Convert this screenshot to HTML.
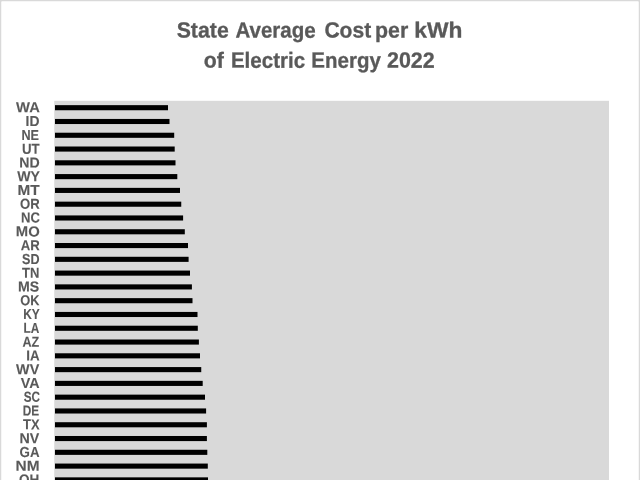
<!DOCTYPE html>
<html><head><meta charset="utf-8"><title>State Average Cost per kWh of Electric Energy 2022</title>
<style>
html,body{margin:0;padding:0;background:#fff;}
body{width:640px;height:480px;overflow:hidden;position:relative;font-family:"Liberation Sans",sans-serif;}
#chart{position:absolute;left:0;top:0;}
#chart text{font-family:"Liberation Sans",sans-serif;font-weight:bold;fill:#595959;text-rendering:geometricPrecision;}
.ti{font-size:22.0px;stroke:#595959;stroke-width:0.3px;}
.la{font-size:14.5px;text-anchor:end;stroke:#595959;stroke-width:0.1px;}
</style></head><body>
<svg id="chart" width="640" height="480" viewBox="0 0 640 480">
<rect x="0" y="0" width="640" height="520" rx="2" ry="2" fill="#fff" stroke="#d9d9d9" stroke-width="2.5"/>
<rect x="54.25" y="100.8" width="554.75" height="400" fill="#d9d9d9"/>

<g class="ti">
<text id="w0" transform="matrix(0.9677 0.002 0 1 176.66 37.50)">State</text>
<text id="w1" transform="matrix(0.9339 0.002 0 1 235.41 37.50)">Average</text>
<text id="w2" transform="matrix(0.9584 0.002 0 1 324.38 37.50)">Cost</text>
<text id="w3" transform="matrix(0.9720 0.002 0 1 374.97 37.50)">per</text>
<text id="w4" transform="matrix(1.0368 0.002 0 1 414.23 37.50)">kWh</text>
<text id="w5" transform="matrix(0.9674 0.002 0 1 203.78 67.60)">of</text>
<text id="w6" transform="matrix(0.9329 0.002 0 1 230.91 67.60)">Electric</text>
<text id="w7" transform="matrix(0.9319 0.002 0 1 311.30 67.60)">Energy</text>
<text id="w8" transform="matrix(0.9761 0.002 0 1 386.98 67.60)">2022</text>
</g>
<g fill="#000"><rect x="55" y="105.15" width="113.00" height="5.1"/>
<rect x="55" y="118.94" width="114.50" height="5.1"/>
<rect x="55" y="132.72" width="119.20" height="5.1"/>
<rect x="55" y="146.50" width="119.70" height="5.1"/>
<rect x="55" y="160.29" width="120.50" height="5.1"/>
<rect x="55" y="174.07" width="122.30" height="5.1"/>
<rect x="55" y="187.86" width="125.00" height="5.1"/>
<rect x="55" y="201.65" width="126.25" height="5.1"/>
<rect x="55" y="215.43" width="128.10" height="5.1"/>
<rect x="55" y="229.22" width="129.80" height="5.1"/>
<rect x="55" y="243.00" width="133.00" height="5.1"/>
<rect x="55" y="256.78" width="133.60" height="5.1"/>
<rect x="55" y="270.57" width="135.00" height="5.1"/>
<rect x="55" y="284.36" width="136.90" height="5.1"/>
<rect x="55" y="298.14" width="137.50" height="5.1"/>
<rect x="55" y="311.93" width="142.50" height="5.1"/>
<rect x="55" y="325.71" width="142.80" height="5.1"/>
<rect x="55" y="339.50" width="143.90" height="5.1"/>
<rect x="55" y="353.28" width="145.00" height="5.1"/>
<rect x="55" y="367.07" width="146.25" height="5.1"/>
<rect x="55" y="380.85" width="147.70" height="5.1"/>
<rect x="55" y="394.63" width="150.00" height="5.1"/>
<rect x="55" y="408.42" width="151.10" height="5.1"/>
<rect x="55" y="422.21" width="151.90" height="5.1"/>
<rect x="55" y="435.99" width="151.90" height="5.1"/>
<rect x="55" y="449.77" width="152.30" height="5.1"/>
<rect x="55" y="463.56" width="152.80" height="5.1"/>
<rect x="55" y="477.35" width="153.00" height="5.1"/></g>
<g class="la"><text id="l0" transform="matrix(1.0192 0.002 0 1 39.84 112.35)">WA</text>
<text id="l1" transform="matrix(0.9544 0.002 0 1 39.46 126.14)">ID</text>
<text id="l2" transform="matrix(0.8724 0.002 0 1 39.06 139.92)">NE</text>
<text id="l3" transform="matrix(0.9139 0.002 0 1 39.64 153.71)">UT</text>
<text id="l4" transform="matrix(0.9742 0.002 0 1 39.70 167.49)">ND</text>
<text id="l5" transform="matrix(0.9771 0.002 0 1 40.07 181.28)">WY</text>
<text id="l6" transform="matrix(1.0603 0.002 0 1 39.74 195.06)">MT</text>
<text id="l7" transform="matrix(0.9061 0.002 0 1 39.75 208.85)">OR</text>
<text id="l8" transform="matrix(0.9038 0.002 0 1 39.99 222.63)">NC</text>
<text id="l9" transform="matrix(1.0256 0.002 0 1 39.71 236.42)">MO</text>
<text id="l10" transform="matrix(0.9107 0.002 0 1 39.85 250.20)">AR</text>
<text id="l11" transform="matrix(0.8681 0.002 0 1 39.51 263.98)">SD</text>
<text id="l12" transform="matrix(0.8983 0.002 0 1 39.30 277.77)">TN</text>
<text id="l13" transform="matrix(0.9762 0.002 0 1 39.28 291.56)">MS</text>
<text id="l14" transform="matrix(0.8856 0.002 0 1 39.61 305.34)">OK</text>
<text id="l15" transform="matrix(0.8244 0.002 0 1 39.83 319.12)">KY</text>
<text id="l16" transform="matrix(0.8172 0.002 0 1 39.42 332.91)">LA</text>
<text id="l17" transform="matrix(0.8706 0.002 0 1 39.32 346.69)">AZ</text>
<text id="l18" transform="matrix(0.9243 0.002 0 1 39.66 360.48)">IA</text>
<text id="l19" transform="matrix(0.9932 0.002 0 1 39.24 374.27)">WV</text>
<text id="l20" transform="matrix(0.9886 0.002 0 1 39.61 388.05)">VA</text>
<text id="l21" transform="matrix(0.8093 0.002 0 1 39.99 401.83)">SC</text>
<text id="l22" transform="matrix(0.8147 0.002 0 1 39.13 415.62)">DE</text>
<text id="l23" transform="matrix(0.8948 0.002 0 1 39.63 429.41)">TX</text>
<text id="l24" transform="matrix(0.9847 0.002 0 1 39.39 443.19)">NV</text>
<text id="l25" transform="matrix(0.9180 0.002 0 1 39.59 456.97)">GA</text>
<text id="l26" transform="matrix(1.0649 0.002 0 1 39.52 470.76)">NM</text>
<text id="l27" transform="matrix(0.9357 0.002 0 1 39.28 484.55)">OH</text></g>
</svg>
</body></html>
